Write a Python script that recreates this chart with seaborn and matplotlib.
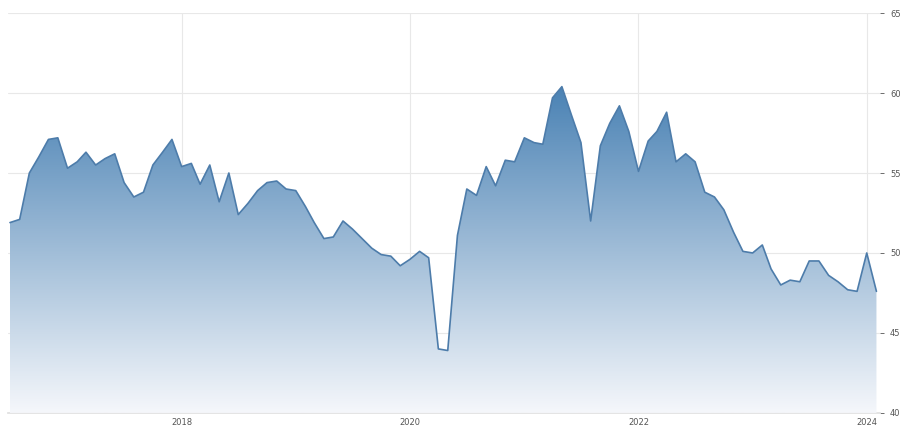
import numpy as np
import pandas as pd
import matplotlib
matplotlib.use("Agg")
import matplotlib.pyplot as plt
import seaborn as sns
from matplotlib.colors import LinearSegmentedColormap

# monthly readings, Jul 2016 .. Feb 2024
months = pd.date_range("2016-07-01", "2024-02-01", freq="MS")
values = [
    51.9, 52.1, 55.0, 56.0, 57.1, 57.2, 55.3, 55.7, 56.3, 55.5, 55.9, 56.2,
    54.4, 53.5, 53.8, 55.5, 56.3, 57.1, 55.4, 55.6, 54.3, 55.5, 53.2, 55.0,
    52.4, 53.1, 53.9, 54.4, 54.5, 54.0, 53.9, 52.9, 51.9, 50.9, 51.0, 52.0,
    51.5, 50.9, 50.3, 49.9, 49.8, 49.2, 49.6, 50.1, 49.7, 44.0, 43.9, 51.1,
    54.0, 53.6, 55.4, 54.2, 55.8, 55.7, 57.2, 56.9, 56.8, 59.7, 60.4, 58.6,
    56.9, 52.0, 56.7, 58.1, 59.2, 57.6, 55.1, 57.0, 57.6, 58.8, 55.7, 56.2,
    55.7, 53.8, 53.5, 52.7, 51.3, 50.1, 50.0, 50.5, 49.0, 48.0, 48.3, 48.2,
    49.5, 49.5, 48.6, 48.2, 47.7, 47.6, 50.0, 47.6,
]
year_ticks = ["2018", "2020", "2022", "2024"]
y_ticks = [40, 45, 50, 55, 60, 65]

df = pd.DataFrame({"date": months, "value": values})

sns.set_theme(style="white")
fig = plt.figure(figsize=(9, 4.36), dpi=100)
ax = fig.add_axes([0.009, 0.053, 0.969, 0.917])

sns.lineplot(data=df, x="date", y="value", ax=ax, color="#4d7caa", linewidth=1.2, zorder=4)

# gradient fill under the line
xnum = matplotlib.dates.date2num(df["date"])
poly = ax.fill_between(xnum, df["value"], 40, color="none", lw=0)
cmap = LinearSegmentedColormap.from_list("fade", ["#f5f7fb", "#4a82b4"])
grad = np.linspace(0, 1, 256).reshape(-1, 1)
img = ax.imshow(grad, cmap=cmap, aspect="auto", origin="lower",
                extent=[xnum[0], xnum[-1], 40, max(values)], zorder=3)
img.set_clip_path(poly.get_paths()[0], transform=ax.transData)

ax.set_xlim(xnum[0] - 6, xnum[-1] + 12)
ax.set_ylim(40, 65)
ax.set_xticks(matplotlib.dates.date2num(pd.to_datetime([y + "-01-01" for y in year_ticks])))
ax.set_xticklabels(year_ticks)
ax.set_yticks(y_ticks)
ax.yaxis.tick_right()
ax.grid(True, color="#e8e8e8", linewidth=0.8)
ax.set_axisbelow(True)
for s in ["left", "right", "top"]:
    ax.spines[s].set_visible(False)
ax.spines["bottom"].set_color("#e0e0e0")
ax.tick_params(axis="both", labelsize=6, colors="#555555", length=3, width=0.6)
ax.tick_params(axis="x", length=0, pad=4)
ax.tick_params(axis="y", pad=4)
ax.set_xlabel("")
ax.set_ylabel("")

fig.savefig("out.png", dpi=100, facecolor="white")
